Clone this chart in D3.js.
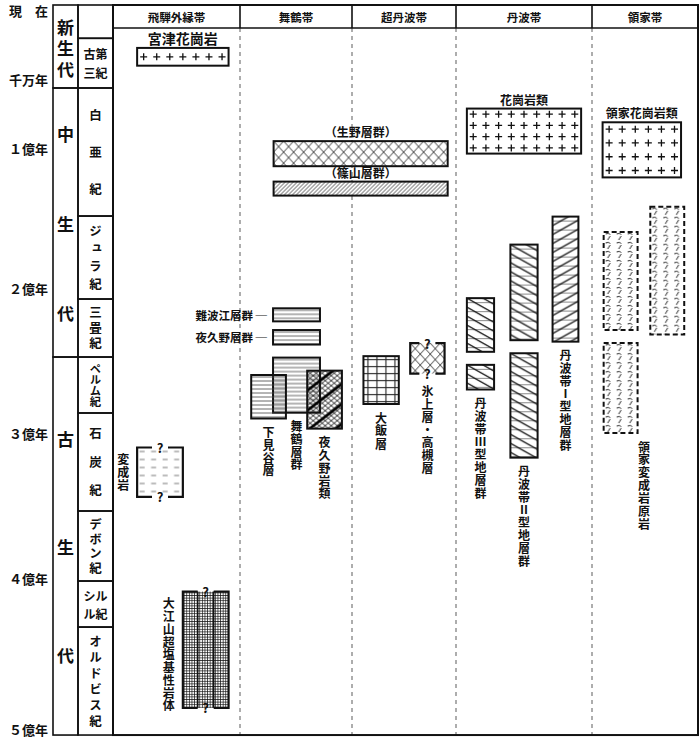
<!doctype html>
<html>
<head>
<meta charset="utf-8">
<style>
html,body{margin:0;background:#fff;}
text{font-family:"Noto Sans CJK JP","Noto Sans",sans-serif;font-weight:700;fill:#111;}
</style>
</head>
<body>
<script src="https://cdn.jsdelivr.net/npm/d3@7"></script>
<script>
// 時間軸 (Ma, 図の目盛に合わせた値)
var tickValues = [0, 10, 100, 200, 300, 400, 500];
var tickLabels = ["現　在", "千万年", "１億年", "２億年", "３億年", "４億年", "５億年"];

var eraNames = ["新生代", "中生代", "古生代"];
var eraStart = [0, 65, 247.6];
var eraEnd = [65, 247.6, 504];

// 縦書きの紀名 (横書き2行のものは配列)
var periodLabels = ["", ["古第", "三紀"], "白亜紀", "ジュラ紀", "三畳紀", "ペルム紀", "石炭紀", "デボン紀",
  ["シル", "ル紀"], "オルドビス紀"];
var periodStart = [0, 4.5, 65, 148.6, 207.6, 247.6, 286.2, 353.8, 402, 432.5];
var periodEnd = [4.5, 65, 148.6, 207.6, 247.6, 286.2, 353.8, 402, 432.5, 504];

var belts = ["飛騨外縁帯", "舞鶴帯", "超丹波帯", "丹波帯", "領家帯"];

var unitNames = ["宮津花崗岩", "変成岩", "大江山超塩基性岩体", "（生野層群）", "（篠山層群）",
  "難波江層群", "夜久野層群", "舞鶴層群", "下見谷層", "夜久野岩類", "大飯層", "氷上層・高槻層",
  "花崗岩類", "丹波帯Ⅲ型地層群", "丹波帯Ⅱ型地層群", "丹波帯Ⅰ型地層群", "領家花崗岩類", "領家変成岩原岩"];
var unitRocks = ["granite", "meta", "ultramafic", "xcross", "slant", "strata", "strata", "strata", "strata",
  "ophiolite", "grid", "xcross", "granite", "tambaB", "tambaB", "tambaA", "granite", "ryoke"];
var unitUncertain = [0, 1, 1, 0, 0, 0, 0, 0, 0, 0, 0, 1, 0, 0, 0, 0, 0, 0];

// [地質体, 帯座標(左), 帯座標(右), 上限Ma, 下限Ma]
var blocks = [
  [0, 0.19, 0.91, 5.8, 8.2],
  [1, 0.19, 0.55, 310, 344],
  [2, 0.55, 0.91, 409, 486],
  [3, 1.30, 2.92, 96, 113],
  [4, 1.30, 2.92, 124, 134],
  [5, 1.295, 1.714, 214, 223],
  [6, 1.295, 1.714, 229, 239],
  [7, 1.295, 1.714, 248, 286],
  [8, 1.10, 1.41, 260, 290],
  [9, 1.60, 1.91, 257, 297],
  [10, 2.11, 2.45, 247, 280],
  [11, 2.56, 2.89, 238, 259],
  [12, 3.08, 3.92, 77, 104],
  [13, 3.08, 3.28, 207, 244],
  [13, 3.08, 3.28, 253, 270],
  [14, 3.40, 3.60, 169, 236],
  [14, 3.40, 3.60, 245, 317],
  [15, 3.71, 3.90, 149, 237],
  [16, 4.10, 4.84, 85, 121],
  [17, 4.11, 4.43, 160, 229],
  [17, 4.55, 4.87, 142, 232],
  [17, 4.11, 4.43, 238, 300]
];

// ラベルの置き方
var labelSide = {"宮津花崗岩": "top", "変成岩": "left", "大江山超塩基性岩体": "left", "（生野層群）": "top",
  "（篠山層群）": "top", "難波江層群": "side", "夜久野層群": "side", "花崗岩類": "top", "領家花崗岩類": "top"};
var labelSize = {"宮津花崗岩": 14};

var rockStyle = {
  granite: [],
  strata: [{k: "h", s: 4, sw: 0.8, c: "#444"}],
  grid: [{k: "h", s: 7, sw: 1.1, c: "#222"}, {k: "v", s: 9, sw: 1.1, c: "#222"}],
  ultramafic: [{k: "h", s: 2.6, sw: 0.75, c: "#111"}, {k: "v", s: 2.6, sw: 0.75, c: "#111"}],
  xcross: [{k: "d", w: 10, h: 11, sw: 0.9, c: "#222"}, {k: "u", w: 10, h: 11, sw: 0.9, c: "#222"}],
  ophiolite: [{k: "d", w: 6, h: 5, sw: 0.9, c: "#111"}, {k: "u", w: 6, h: 5, sw: 0.9, c: "#111"},
    {k: "u", w: 26, h: 20, sw: 2.6, c: "#000"}],
  slant: [{k: "u", w: 4, h: 4, sw: 0.9, c: "#333"}],
  tambaB: [{k: "h", s: 9, sw: 0.7, c: "#555"}, {k: "d", w: 16, h: 9, sw: 1.3, c: "#111"}],
  tambaA: [{k: "h", s: 9, sw: 0.7, c: "#555"}, {k: "u", w: 16, h: 9, sw: 1.3, c: "#111"}],
  meta: [{k: "dash", w: 11.5, h: 8, sw: 1, c: "#777"}],
  ryoke: [{k: "ryo", w: 11, h: 9, sw: 1, c: "#222"}]
};

var W = 700, H = 740;
var svg = d3.select("body").append("svg").attr("width", W).attr("height", H);
var defs = svg.append("defs");

var y = d3.scaleLinear().domain([0, 10, 65, 100, 200, 300, 400, 500]).range([5, 79, 88, 148, 288, 433, 578, 729]);
var x = d3.scaleLinear().domain([0, 1, 2, 3, 4, 5]).range([113, 240, 352, 456, 592, 698]);

var top0 = y(0), bottom0 = y(504), headBottom = 28;
var eraX = [53, 78], perX = [78, x(0)];

// 縦書き (1文字目の中心 cy0、字送り step)。最後の字の後ろには字間を付けない
function vtext(sel, cx, cy0, step, str, fs) {
  var chars = Array.from(str);
  var t = sel.append("text")
    .attr("x", cx).attr("y", cy0 - fs / 2)
    .attr("font-size", fs)
    .style("writing-mode", "vertical-rl")
    .style("text-orientation", "upright");
  if (chars.length > 1) {
    t.append("tspan").style("letter-spacing", (step - fs) + "px").text(chars.slice(0, -1).join(""));
  }
  t.append("tspan").style("letter-spacing", "0px").text(chars[chars.length - 1]);
  return t;
}

// 帯の区切り (点線)
svg.selectAll("line.div").data(d3.range(1, belts.length)).enter().append("line")
  .attr("x1", function(d) { return x(d); }).attr("x2", function(d) { return x(d); })
  .attr("y1", headBottom).attr("y2", bottom0)
  .attr("stroke", "#777").attr("stroke-width", 1.2).attr("stroke-dasharray", "4 4");
svg.selectAll("line.hdiv").data(d3.range(1, belts.length)).enter().append("line")
  .attr("x1", function(d) { return x(d); }).attr("x2", function(d) { return x(d); })
  .attr("y1", top0).attr("y2", headBottom)
  .attr("stroke", "#111").attr("stroke-width", 1.6);
svg.append("rect").attr("x", x(0)).attr("y", top0).attr("width", x(5) - x(0)).attr("height", bottom0 - top0)
  .attr("fill", "none").attr("stroke", "#111").attr("stroke-width", 2);
svg.append("line").attr("x1", x(0)).attr("x2", x(5)).attr("y1", headBottom).attr("y2", headBottom)
  .attr("stroke", "#111").attr("stroke-width", 1.6);

svg.selectAll("text.belt").data(belts).enter().append("text")
  .attr("x", function(d, i) { return x(i + 0.5); }).attr("y", (top0 + headBottom) / 2)
  .attr("text-anchor", "middle").attr("dominant-baseline", "central")
  .attr("font-size", 11.5).text(function(d) { return d; });

// 時代の表
eraNames.forEach(function(name, i) {
  var y0 = y(eraStart[i]), y1 = y(eraEnd[i]), h = y1 - y0;
  svg.append("rect").attr("x", eraX[0]).attr("y", y0).attr("width", eraX[1] - eraX[0]).attr("height", h)
    .attr("fill", "none").attr("stroke", "#111").attr("stroke-width", 1.6);
  var n = name.length, step = h < 120 ? h / 4 : Math.min(h / 3, 108), mid = (y0 + y1) / 2;
  vtext(svg, (eraX[0] + eraX[1]) / 2, mid - (n - 1) / 2 * step + 2, step, name, 17);
});
periodLabels.forEach(function(lab, i) {
  var y0 = y(periodStart[i]), y1 = y(periodEnd[i]), h = y1 - y0, mid = (y0 + y1) / 2;
  var cx = (perX[0] + perX[1]) / 2;
  svg.append("rect").attr("x", perX[0]).attr("y", y0).attr("width", perX[1] - perX[0]).attr("height", h)
    .attr("fill", "none").attr("stroke", "#111").attr("stroke-width", 1.6);
  if (!lab.length) return;
  if (Array.isArray(lab)) {
    var st = Math.max(18, (h - 12) / 2);
    lab.forEach(function(t, j) {
      svg.append("text").attr("x", cx).attr("y", mid + (j - 0.5) * st).attr("text-anchor", "middle")
        .attr("dominant-baseline", "central").attr("font-size", 12).text(t);
    });
  } else {
    var n = lab.length, step = Math.min(37, (h - 12) / n);
    var fs = Math.min(12.5, step + 0.3);
    vtext(svg, cx, mid - (n - 1) / 2 * step, step, lab, fs);
  }
});

svg.selectAll("text.tick").data(tickValues).enter().append("text")
  .attr("x", 48).attr("y", function(d) { return Math.max(y(d), 10); })
  .attr("text-anchor", "end").attr("dominant-baseline", "central").attr("font-size", 13)
  .text(function(d, i) { return tickLabels[i]; });

// 地質体
function diag(w, h, up) {
  var d = "";
  [-1, 0, 1].forEach(function(k) {
    if (!up) d += "M" + (-w) + "," + (-h + k * h) + "L" + (2 * w) + "," + (2 * h + k * h);
    else d += "M" + (-w) + "," + (2 * h + k * h) + "L" + (2 * w) + "," + (-h + k * h);
  });
  return d;
}

var B = blocks.map(function(b, i) {
  return {i: i, u: b[0], x0: x(b[1]), x1: x(b[2]), y0: y(b[3]), y1: y(b[4])};
});
var g = svg.append("g");

g.selectAll("rect.bg").data(B).enter().append("rect")
  .attr("x", function(d) { return d.x0; }).attr("y", function(d) { return d.y0; })
  .attr("width", function(d) { return d.x1 - d.x0; }).attr("height", function(d) { return d.y1 - d.y0; })
  .attr("fill", "#fff");

B.forEach(function(d) {
  var rock = unitRocks[d.u], w = d.x1 - d.x0, h = d.y1 - d.y0;
  rockStyle[rock].forEach(function(L, li) {
    var id = "p" + d.i + "_" + li;
    var p = defs.append("pattern").attr("id", id).attr("patternUnits", "userSpaceOnUse")
      .attr("x", d.x0).attr("y", d.y0);
    var path;
    if (L.k === "h") { p.attr("width", 10).attr("height", L.s); path = "M0," + L.s / 2 + "H10"; }
    else if (L.k === "v") { p.attr("width", L.s).attr("height", 10); path = "M" + L.s / 2 + ",0V10"; }
    else if (L.k === "d" || L.k === "u") { p.attr("width", L.w).attr("height", L.h); path = diag(L.w, L.h, L.k === "u"); }
    else if (L.k === "dash") { p.attr("width", L.w).attr("height", L.h); path = "M2.5," + L.h / 2 + "H" + (L.w - 4); }
    else { p.attr("width", L.w).attr("height", L.h); path = "M2,2Q5,0.5 6.5,2.5M6.5,4L4,8"; }
    p.append("path").attr("d", path).attr("fill", "none").attr("stroke", L.c).attr("stroke-width", L.sw);
    g.append("rect").attr("x", d.x0).attr("y", d.y0).attr("width", w).attr("height", h)
      .attr("fill", "url(#" + id + ")");
  });

  if (rock === "granite") {
    var cols = Math.round(w / 12.8), rows = Math.max(1, Math.round(h / 12 - 0.1));
    var sx = w / cols, sy = h / rows;
    d3.range(rows).forEach(function(r) {
      d3.range(cols).forEach(function(c) {
        var cx = d.x0 + (c + 0.5) * sx, cy = d.y0 + (r + 0.5) * sy;
        g.append("path").attr("d", "M" + (cx - 3.5) + "," + cy + "H" + (cx + 3.5) + "M" + cx + "," + (cy - 3.5) + "V" + (cy + 3.5))
          .attr("stroke", "#111").attr("stroke-width", 1.3);
      });
    });
  }

  var cx = (d.x0 + d.x1) / 2;
  if (unitUncertain[d.u]) {
    var gl = cx - 8, gr = cx + 8;
    g.append("path")
      .attr("d", "M" + gl + "," + d.y0 + "H" + d.x0 + "V" + d.y1 + "H" + gl +
        "M" + gr + "," + d.y0 + "H" + d.x1 + "V" + d.y1 + "H" + gr)
      .attr("fill", "none").attr("stroke", "#111").attr("stroke-width", 2.2);
    if (rock === "ultramafic") {
      g.append("path").attr("d", "M" + gl + "," + d.y0 + "V" + d.y1 + "M" + gr + "," + d.y0 + "V" + d.y1)
        .attr("stroke", "#111").attr("stroke-width", 1.5);
    }
    [d.y0, d.y1].forEach(function(yy) {
      g.append("text").attr("x", cx).attr("y", yy).attr("text-anchor", "middle")
        .attr("dominant-baseline", "central").attr("font-size", 13).text("?");
    });
  } else {
    g.append("rect").attr("x", d.x0).attr("y", d.y0).attr("width", w).attr("height", h)
      .attr("fill", "none").attr("stroke", "#111").attr("stroke-width", 2)
      .attr("stroke-dasharray", rock === "ryoke" ? "5 3" : null);
  }
});

// ラベル
unitNames.forEach(function(name, u) {
  var bs = B.filter(function(b) { return b.u === u; });
  var ux0 = d3.min(bs, function(b) { return b.x0; }), ux1 = d3.max(bs, function(b) { return b.x1; });
  var uy0 = d3.min(bs, function(b) { return b.y0; }), uy1 = d3.max(bs, function(b) { return b.y1; });
  var side = labelSide[name] || "bottom", fs = labelSize[name] || 12;
  if (side === "top") {
    g.append("text").attr("x", (ux0 + ux1) / 2).attr("y", uy0 - 4).attr("text-anchor", "middle")
      .attr("font-size", fs).text(name);
  } else if (side === "side") {
    g.append("text").attr("x", ux0 - 6).attr("y", (uy0 + uy1) / 2).attr("text-anchor", "end")
      .attr("dominant-baseline", "central").attr("font-size", 11.5).text(name + " ─");
  } else {
    var lx = side === "left" ? ux0 - 14 : (ux0 + ux1) / 2;
    var ly = side === "left" ? uy0 + 12 : uy1 + (unitUncertain[u] ? 18 : 14);
    vtext(g, lx, ly, 12.8, name, fs);
  }
});
</script>
</body>
</html>
